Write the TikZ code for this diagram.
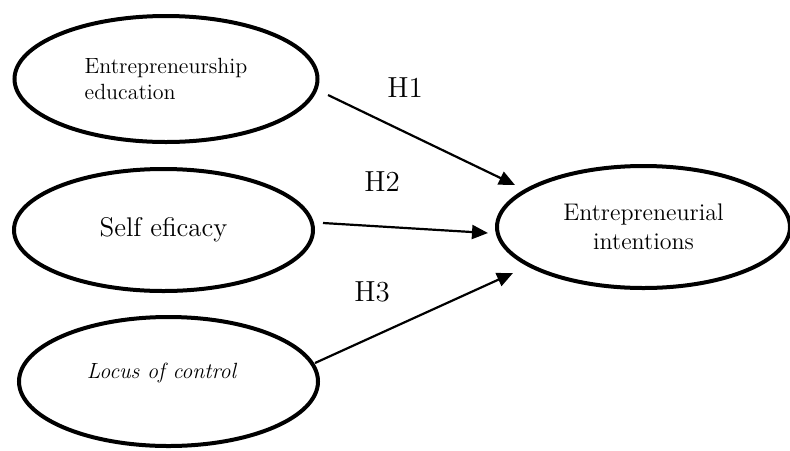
\documentclass[tikz,border=0pt]{standalone}
\usepackage{tikz}
\usetikzlibrary{shapes.geometric,arrows.meta}

\begin{document}
\begin{tikzpicture}
    [
    latent/.style = {ellipse,draw,line width=2pt,inner sep=0pt}
    , arr/.style = {-{Triangle[length=8pt,width=7pt]},line width=1.1pt}
    , hyp/.style = {font=\fontsize{14.5}{17}\selectfont}
    , x=0.5pt, y=-0.5pt
    ]
\useasboundingbox (0,0) rectangle (790,450);

\node[latent,minimum width=151.5pt,minimum height=63pt,align=left,font=\fontsize{11}{13}\selectfont] (edu) at (166,79) {Entrepreneurship\\education};
\node[latent,minimum width=149.5pt,minimum height=61pt,font=\fontsize{13.5}{16}\selectfont] (self) at (163.5,230) {Self eficacy};
\node[latent,minimum width=149.5pt,minimum height=64.5pt] (locus) at (168.5,381.5) {};
\node[font=\fontsize{11}{13}\selectfont\itshape] (locustext) at (161.5,372.5) {Locus of control};

\node[latent,minimum width=146.5pt,minimum height=61pt,align=center,font=\fontsize{12}{14.5}\selectfont] (intent) at (643.5,227) {Entrepreneurial\\intentions};

\draw[arr] ([shift={(162,16)}]edu.center) -- ([shift={(-128.5,-42)}]intent.center);
\draw[arr] ([shift={(159.5,-7)}]self.center) -- ([shift={(-155.5,6)}]intent.center);
\draw[arr] ([shift={(146.5,-18.5)}]locus.center) -- ([shift={(-130.5,46)}]intent.center);

\node[hyp] (h1) at (405,88) {H1};
\node[hyp] (h2) at (382,182) {H2};
\node[hyp] (h3) at (372,292) {H3};
\end{tikzpicture}
\end{document}
